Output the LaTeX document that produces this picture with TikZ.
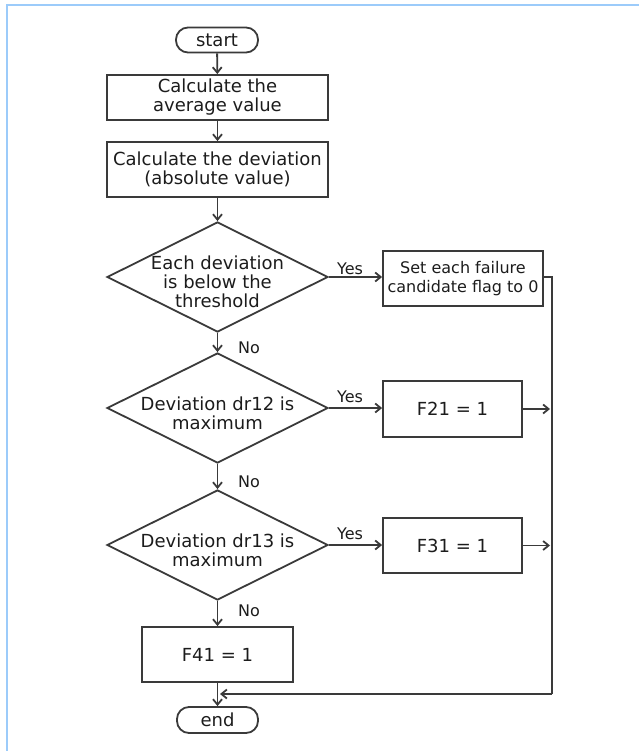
\documentclass[tikz,border=0pt]{standalone}
\usepackage{fontspec}
\setmainfont{DejaVu Sans}
\usetikzlibrary{arrows.meta,shapes.geometric}
\definecolor{ink}{HTML}{3A3A3A}
\definecolor{type}{HTML}{1C1C1C}
\definecolor{frame}{HTML}{9CCBFA}
\newcommand{\bigtext}{\fontsize{18}{19}\selectfont}
\newcommand{\midtext}{\fontsize{16}{19}\selectfont}
\tikzset{
  box/.style={draw=ink, line width=1.8pt, rectangle, inner sep=0pt, align=center,
              text=type, font=\bigtext},
  term/.style={box, rounded corners=12pt},
  dec/.style={draw=ink, line width=1.8pt, diamond, inner sep=0pt,
              minimum width=221pt, minimum height=110pt},
  dectext/.style={align=center, text=type, font=\bigtext, inner sep=0pt},
  flow/.style={draw=ink, line width=1.8pt, -{Straight Barb[length=5.5pt,width=9pt]}},
  wire/.style={draw=ink, line width=1.8pt},
  tag/.style={text=type, font=\midtext, inner sep=0pt}
}
\begin{document}
\begin{tikzpicture}[x=1pt, y=-1pt]
\useasboundingbox (0,0) rectangle (639,751);
% frame edges
\draw[frame, line width=2.5pt] (7,751) -- (7,5) -- (639,5);

% main column
\node[term, minimum width=82pt, minimum height=25pt] (start) at (217,40) {start};
\node[box, minimum width=221pt, minimum height=45pt] (avg) at (217.5,97.5) {Calculate the\\average value};
\node[box, minimum width=221pt, minimum height=55pt] (dev) at (217.5,169.5) {Calculate the deviation\\(absolute value)};
\node[dec] (d1) at (217.5,277) {};
\node[dectext] (d1t) at (217.5,282) {Each deviation\\is below the\\threshold};
\node[dec] (d2) at (217.5,408) {};
\node[dectext] (d2t) at (217.5,413) {Deviation dr12 is\\maximum};
\node[dec] (d3) at (217.5,545) {};
\node[dectext] (d3t) at (217.5,550) {Deviation dr13 is\\maximum};
\node[box, minimum width=151pt, minimum height=55pt] (f41) at (217.5,654.5) {F41 = 1};
\node[term, minimum width=81pt, minimum height=26pt] (end) at (217.5,720) {end};

% right column
\node[box, font=\midtext, minimum width=160pt, minimum height=55pt] (reset) at (463,278.5) {Set each failure\\candidate flag to 0};
\node[box, minimum width=139pt, minimum height=56pt] (f21) at (452.5,409) {F21 = 1};
\node[box, minimum width=139pt, minimum height=55pt] (f31) at (452.5,545.5) {F31 = 1};

% merge line
\coordinate (bus) at (552,694);
\coordinate (in21) at (550,409);
\coordinate (in31) at (550,545.5);

% vertical flow
\draw[flow] (start) -- (avg);
\draw[flow] (avg) -- (dev);
\draw[flow] (dev) -- (d1);
\draw[flow] (d1) -- (d2);
\draw[flow] (d2) -- (d3);
\draw[flow] (d3) -- (f41);
\draw[flow] (f41) -- (end);

% yes branches
\draw[flow] (d1.east) -- (d1.east -| reset.west);
\draw[flow] (d2.east) -- (d2.east -| f21.west);
\draw[flow] (d3.east) -- (d3.east -| f31.west);
\draw[flow] (f21.east) -- (in21);
\draw[flow] (f31.east) -- (in31);
\draw[wire] (reset.east |- d1.east) -- (bus |- d1.east) -- (bus);
\draw[flow] (bus) -- (bus -| 220,0);

% branch labels
\node[tag] (y1) at (350,269) {Yes};
\node[tag] (y2) at (350,397) {Yes};
\node[tag] (y3) at (350,534) {Yes};
\node[tag] (n1) at (249,348) {No};
\node[tag] (n2) at (249,482) {No};
\node[tag] (n3) at (249,611) {No};
\end{tikzpicture}
\end{document}
